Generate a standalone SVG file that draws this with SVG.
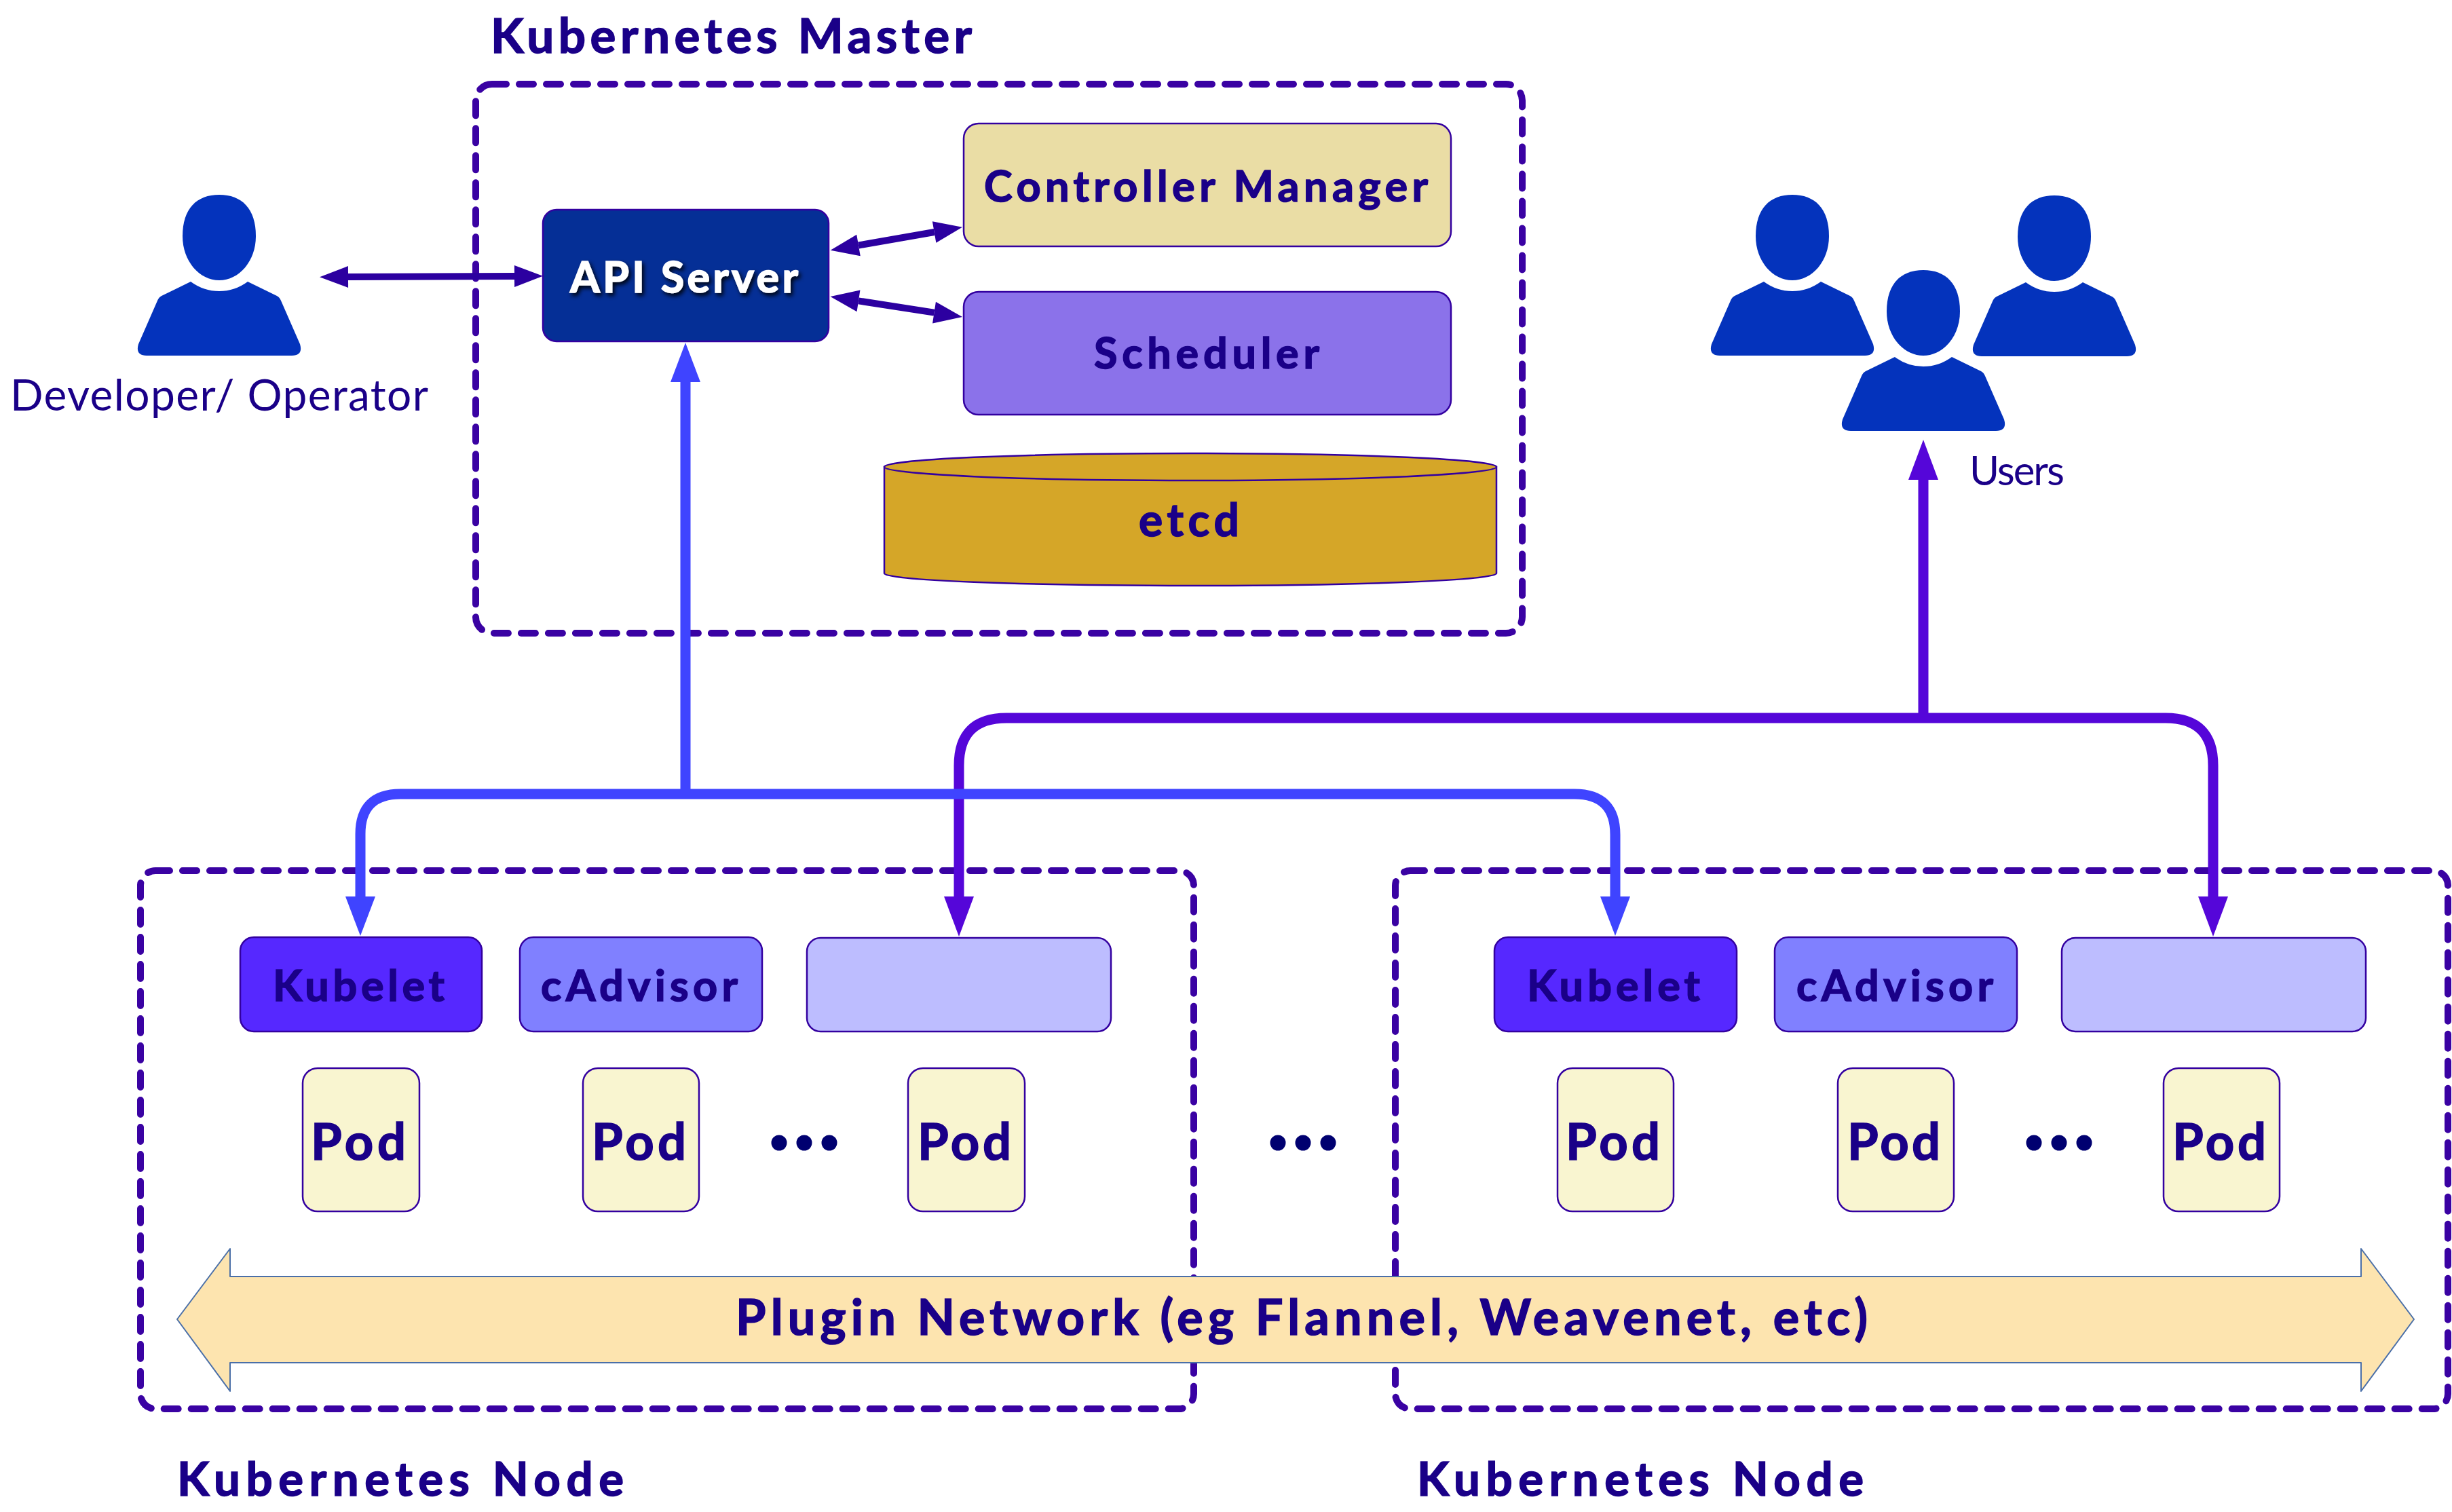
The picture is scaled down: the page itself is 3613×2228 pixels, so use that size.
<svg xmlns="http://www.w3.org/2000/svg" width="3613" height="2228" viewBox="0 0 3613 2228">
<style>
text{font-family:"Lato","Liberation Sans",sans-serif;fill:#1A0088;stroke:#1A0088;stroke-width:1.6;font-weight:700}
.thin{font-weight:400;stroke:none}
.box{stroke:#3300A0;stroke-width:2.5}
.dash{fill:none;stroke:#3A02A3;stroke-width:10;stroke-dasharray:21 19;stroke-linecap:round}
.pod{fill:#F9F5D0}
.kubelet{fill:#5628FF}
.cadv{fill:#8080FF}
.blank{fill:#BDBDFF}
.dot{fill:#000070}
.blue{fill:none;stroke:#3F44FF;stroke-width:15}
.purple{fill:none;stroke:#5506D9;stroke-width:15}
.dark{fill:none;stroke:#2C00A0;stroke-width:10}
.person{fill:#0433BC}
</style>
<defs>
<marker id="mBlue" markerUnits="userSpaceOnUse" orient="auto" overflow="visible" markerWidth="60" markerHeight="46" refX="0" refY="23" viewBox="0 0 60 46"><path d="M0 1 L58 23 L0 45 Z" fill="#3F44FF"/></marker>
<marker id="mPurple" markerUnits="userSpaceOnUse" orient="auto" overflow="visible" markerWidth="60" markerHeight="46" refX="0" refY="23" viewBox="0 0 60 46"><path d="M0 1 L59 23 L0 45 Z" fill="#5506D9"/></marker>
<marker id="mDark" markerUnits="userSpaceOnUse" orient="auto-start-reverse" overflow="visible" markerWidth="42" markerHeight="32" refX="0" refY="16" viewBox="0 0 42 32"><path d="M0 0 L42 16 L0 32 Z" fill="#2C00A0"/></marker>
<filter id="shadow" x="-10%" y="-30%" width="120%" height="160%"><feDropShadow dx="3" dy="4" stdDeviation="3" flood-color="#000" flood-opacity="0.9"/></filter>
<g id="personShape" class="person">
<path d="M323 287 C356 287 377 307 377 348 C377 385 352 413 323 413 C294 413 269 385 269 348 C269 307 290 287 323 287 Z"/>
<path d="M281 415 Q300 429 323 429 Q346 429 365 415 L408 436 Q412 438 414 443 L442 507 Q447 524 430 524 L216 524 Q199 524 204 507 L232 443 Q234 438 238 436 Z"/>
</g>
</defs>

<g id="master"><rect class="dash" x="701" y="124" width="1542" height="809" rx="24"/>
<text x="723" y="78" font-size="71" textLength="709">Kubernetes Master</text></g>
<g id="api-server"><rect class="box" x="800" y="309" width="421" height="194" rx="20" fill="#052F96"/>
<text x="840" y="431" font-size="63" textLength="336" style="fill:#fff;stroke:#fff" filter="url(#shadow)">API Server</text></g>
<g id="controller-manager"><rect class="box" x="1420" y="182" width="718" height="181" rx="22" fill="#EADDA5"/>
<text x="1450" y="297" font-size="63" textLength="654">Controller Manager</text></g>
<g id="scheduler"><rect class="box" x="1420" y="430" width="718" height="181" rx="22" fill="#8B72EA"/>
<text x="1612" y="543" font-size="63" textLength="332">Scheduler</text></g>
<g id="etcd"><path class="box" d="M1303 688 V845 A451 18 0 0 0 2205 845 V688 Z" fill="#D5A628"/><ellipse class="box" cx="1754" cy="688" rx="451" ry="20" fill="#D5A628"/>
<text x="1678" y="790" font-size="66" textLength="148">etcd</text></g>

<g id="developer"><use href="#personShape"/>
<text class="thin" x="15" y="605" font-size="64" textLength="616">Developer/ Operator</text></g>
<g id="users"><use href="#personShape" transform="translate(2318 0)"/><use href="#personShape" transform="translate(2704 1)"/><use href="#personShape" transform="translate(2511 111)"/>
<text class="thin" x="2902" y="715" font-size="60" textLength="140">Users</text></g>

<g id="node-1"><rect class="dash" x="207" y="1283" width="1552" height="793" rx="22"/>
<text x="261" y="2204" font-size="69" textLength="658">Kubernetes Node</text></g>
<g id="node-2"><rect class="dash" x="2056" y="1283" width="1551" height="793" rx="22"/>
<text x="2088" y="2204" font-size="69" textLength="658">Kubernetes Node</text></g>

<g id="kubelet-1"><rect class="box kubelet" x="354" y="1381" width="356" height="139" rx="20"/><text x="402" y="1475" font-size="63" textLength="253">Kubelet</text></g>
<g id="cadvisor-1"><rect class="box cadv" x="766" y="1381" width="357" height="139" rx="20"/><text x="797" y="1475" font-size="63" textLength="290">cAdvisor</text></g>
<g id="proxy-1"><rect class="box blank" x="1189" y="1382" width="448" height="138" rx="20"/></g>
<g id="pod-1-1"><rect class="box pod" x="446" y="1574" width="172" height="211" rx="22"/><text x="458" y="1709" font-size="74" textLength="140">Pod</text></g>
<g id="pod-1-2"><rect class="box pod" x="859" y="1574" width="171" height="211" rx="22"/><text x="872" y="1709" font-size="74" textLength="139">Pod</text></g>
<g id="pod-1-3"><rect class="box pod" x="1338" y="1574" width="172" height="211" rx="22"/><text x="1352" y="1709" font-size="74" textLength="138">Pod</text></g>
<g id="dots-1" class="dot"><circle cx="1148" cy="1684" r="11.5"/><circle cx="1185" cy="1684" r="11.5"/><circle cx="1222" cy="1684" r="11.5"/></g>
<g id="dots-mid" class="dot"><circle cx="1883" cy="1684" r="11.5"/><circle cx="1920" cy="1684" r="11.5"/><circle cx="1957" cy="1684" r="11.5"/></g>

<g id="kubelet-2"><rect class="box kubelet" x="2202" y="1381" width="357" height="139" rx="20"/><text x="2250" y="1475" font-size="63" textLength="255">Kubelet</text></g>
<g id="cadvisor-2"><rect class="box cadv" x="2615" y="1381" width="357" height="139" rx="20"/><text x="2647" y="1475" font-size="63" textLength="290">cAdvisor</text></g>
<g id="proxy-2"><rect class="box blank" x="3038" y="1382" width="448" height="138" rx="20"/></g>
<g id="pod-2-1"><rect class="box pod" x="2295" y="1574" width="171" height="211" rx="22"/><text x="2307" y="1709" font-size="74" textLength="139">Pod</text></g>
<g id="pod-2-2"><rect class="box pod" x="2708" y="1574" width="171" height="211" rx="22"/><text x="2722" y="1709" font-size="74" textLength="137">Pod</text></g>
<g id="pod-2-3"><rect class="box pod" x="3188" y="1574" width="171" height="211" rx="22"/><text x="3201" y="1709" font-size="74" textLength="138">Pod</text></g>
<g id="dots-2" class="dot"><circle cx="2997" cy="1684" r="11.5"/><circle cx="3034" cy="1684" r="11.5"/><circle cx="3071" cy="1684" r="11.5"/></g>

<g id="plugin-network"><path d="M261 1944 L339 1840 V1881 H3479 V1840 L3557 1944 L3479 2050 V2008 H339 V2050 Z" fill="#FDE4AF" stroke="#4A6FA8" stroke-width="2" stroke-linejoin="round"/>
<text x="1084" y="1967" font-size="72" textLength="1668">Plugin Network (eg Flannel, Weavenet, etc)</text></g>

<g id="connectors">
<path class="purple" d="M2834 1058 V707" marker-end="url(#mPurple)"/>
<path class="purple" d="M2834 1058 H1483 Q1413 1058 1413 1128 V1321" marker-end="url(#mPurple)"/>
<path class="purple" d="M2834 1058 H3191 Q3261 1058 3261 1128 V1321" marker-end="url(#mPurple)"/>
<path class="blue" d="M1010 1170 V563" marker-end="url(#mBlue)"/>
<path class="blue" d="M1010 1170 H590 Q531 1170 531 1229 V1321" marker-end="url(#mBlue)"/>
<path class="blue" d="M1010 1170 H2320 Q2380 1170 2380 1230 V1321" marker-end="url(#mBlue)"/>
<path class="dark" d="M513 408 L758 407" marker-start="url(#mDark)" marker-end="url(#mDark)"/>
<path class="dark" d="M1265 361.5 L1376.6 342" marker-start="url(#mDark)" marker-end="url(#mDark)"/>
<path class="dark" d="M1265 443.4 L1376.5 460.6" marker-start="url(#mDark)" marker-end="url(#mDark)"/>
</g>
</svg>
